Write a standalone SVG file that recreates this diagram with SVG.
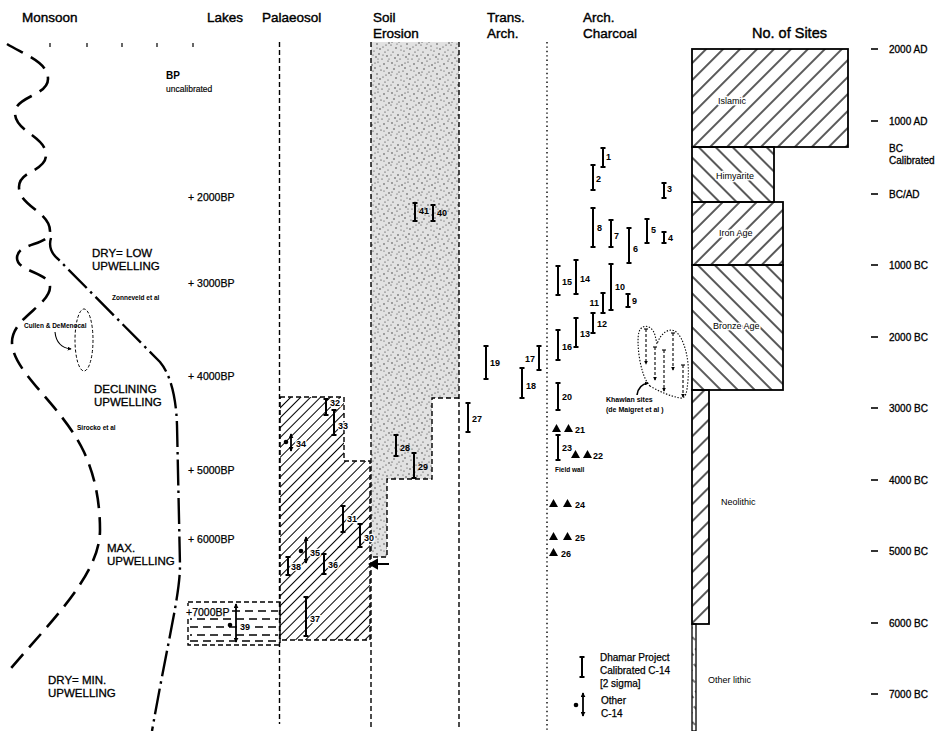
<svg xmlns="http://www.w3.org/2000/svg" width="949" height="731" viewBox="0 0 949 731">
<defs>
<style>
text{font-family:"Liberation Sans",Arial,sans-serif;fill:#000}
.hd{font-size:13.5px;stroke:#000;stroke-width:0.4}
.bp{font-size:10.5px;stroke:#000;stroke-width:0.25}
.up{font-size:11.5px;stroke:#000;stroke-width:0.3}
.sm{font-size:6.5px;font-weight:bold}
.num{font-size:9px;font-weight:bold}
.halo{stroke:#fff;stroke-width:2.5;paint-order:stroke;stroke-linejoin:round}
.sc{font-size:10px;stroke:#000;stroke-width:0.3}
.site{font-size:9px;stroke:#fff;stroke-width:3;paint-order:stroke;stroke-linejoin:round}
.lg{font-size:10px;stroke:#000;stroke-width:0.25}
.bar{stroke:#000;stroke-width:2;fill:none}
.dash{stroke:#000;stroke-width:1.4;stroke-dasharray:5 3}
.dot{stroke:#000;stroke-width:1.4;stroke-dasharray:1.4 3}
.box{stroke:#000;stroke-width:1.8}
.oc{stroke:#000;stroke-width:1.8;fill:none;marker-start:url(#ah);marker-end:url(#ah)}
.kh{stroke:#000;stroke-width:1.1;fill:none;stroke-dasharray:3 2;marker-end:url(#ahs)}
</style>
<marker id="ah" viewBox="0 0 6 6" refX="5" refY="3" markerWidth="5" markerHeight="5" markerUnits="userSpaceOnUse" orient="auto-start-reverse"><path d="M0,0 L6,3 L0,6 z" fill="#000"/></marker>
<marker id="ahs" viewBox="0 0 6 6" refX="5" refY="3" markerWidth="4" markerHeight="4" markerUnits="userSpaceOnUse" orient="auto"><path d="M0,0 L6,3 L0,6 z" fill="#000"/></marker>
<pattern id="hf" width="12" height="12" patternUnits="userSpaceOnUse" patternTransform="rotate(45)"><line x1="6" y1="0" x2="6" y2="12" stroke="#000" stroke-width="1.3"/></pattern>
<pattern id="hb" width="12" height="12" patternUnits="userSpaceOnUse" patternTransform="rotate(-45)"><line x1="6" y1="0" x2="6" y2="12" stroke="#000" stroke-width="1.3"/></pattern>
<pattern id="hp" width="7" height="7" patternUnits="userSpaceOnUse" patternTransform="rotate(45)"><line x1="3.5" y1="0" x2="3.5" y2="7" stroke="#000" stroke-width="1"/></pattern>
<pattern id="ho" width="6" height="10" patternUnits="userSpaceOnUse" patternTransform="rotate(-45)"><line x1="3" y1="0" x2="3" y2="4" stroke="#000" stroke-width="1"/></pattern>
<pattern id="st" width="30" height="30" patternUnits="userSpaceOnUse">
<rect width="30" height="30" fill="#e2e2e2"/>
<g fill="#222">
<circle cx="2" cy="3" r="0.7"/><circle cx="7" cy="1" r="0.6"/><circle cx="12" cy="5" r="0.7"/><circle cx="18" cy="2" r="0.6"/><circle cx="24" cy="4" r="0.7"/><circle cx="28" cy="1" r="0.6"/><circle cx="4" cy="9" r="0.7"/><circle cx="9" cy="12" r="0.6"/><circle cx="15" cy="8" r="0.7"/><circle cx="21" cy="10" r="0.6"/><circle cx="27" cy="8" r="0.7"/><circle cx="1" cy="15" r="0.6"/><circle cx="6" cy="18" r="0.7"/><circle cx="11" cy="16" r="0.6"/><circle cx="17" cy="14" r="0.7"/><circle cx="23" cy="17" r="0.6"/><circle cx="29" cy="13" r="0.7"/><circle cx="3" cy="22" r="0.6"/><circle cx="8" cy="25" r="0.7"/><circle cx="14" cy="21" r="0.6"/><circle cx="19" cy="24" r="0.7"/><circle cx="25" cy="22" r="0.6"/><circle cx="5" cy="28" r="0.7"/><circle cx="10" cy="29" r="0.6"/><circle cx="16" cy="27" r="0.7"/><circle cx="22" cy="29" r="0.6"/><circle cx="27" cy="26" r="0.7"/><circle cx="13" cy="11" r="0.6"/><circle cx="20" cy="19" r="0.7"/><circle cx="26" cy="15" r="0.6"/><circle cx="2" cy="12" r="0.6"/><circle cx="9" cy="6" r="0.6"/><circle cx="15" cy="3" r="0.6"/>
<circle cx="5" cy="5" r="0.5"/><circle cx="20" cy="6" r="0.5"/><circle cx="11" cy="20" r="0.5"/><circle cx="24" cy="11" r="0.5"/><circle cx="7" cy="14" r="0.5"/><circle cx="17" cy="18" r="0.5"/><circle cx="28" cy="20" r="0.5"/><circle cx="1" cy="25" r="0.5"/><circle cx="13" cy="25" r="0.5"/><circle cx="23" cy="25" r="0.5"/><circle cx="18" cy="29" r="0.5"/><circle cx="29" cy="29" r="0.5"/>
</g>
</pattern>
</defs>
<rect width="949" height="731" fill="#fff"/>

<g id="headers">
<text class="hd" x="22" y="22">Monsoon</text>
<text class="hd" x="207" y="22">Lakes</text>
<text class="hd" x="262" y="22">Palaeosol</text>
<text class="hd" x="373" y="22">Soil</text>
<text class="hd" x="373" y="38">Erosion</text>
<text class="hd" x="487" y="22">Trans.</text>
<text class="hd" x="487" y="38">Arch.</text>
<text class="hd" x="583" y="22">Arch.</text>
<text class="hd" x="583" y="38">Charcoal</text>
<text class="hd" x="752" y="38" style="font-size:14.5px">No. of Sites</text>
</g>

<g id="monsoon">
<g stroke="#000" stroke-width="1.2"><line x1="50" y1="43" x2="50" y2="47"/><line x1="87" y1="43" x2="87" y2="47"/><line x1="122" y1="43" x2="122" y2="47"/><line x1="157" y1="43" x2="157" y2="47"/><line x1="193" y1="43" x2="193" y2="47"/></g>
<path d="M 7,44 C 25,55 48,62 48,79 C 48,96 15,96 15,113 C 15,132 46,136 46,155 C 46,172 19,170 19,187 C 19,206 50,212 50,231 C 50,246 17,242 17,258 C 17,272 50,272 50,287 C 50,305 12,318 12,342 C 12,372 62,405 84,452 C 96,478 100,505 100,530 C 100,575 50,622 6,674" fill="none" stroke="#000" stroke-width="2.6" stroke-dasharray="18 9"/>
<path d="M 51,238 C 48,248 52,254 58,259 L 160,362 C 170,374 176,395 177,425 L 180,565 C 180,595 168,640 152,731" fill="none" stroke="#000" stroke-width="2.4" stroke-dasharray="26 5 2.5 5"/>
<ellipse cx="84" cy="340" rx="9" ry="31" fill="none" stroke="#000" stroke-width="1" stroke-dasharray="3 2"/>
<path d="M 55,332 C 56,342 62,348 71,349" fill="none" stroke="#000" stroke-width="1.1" marker-end="url(#ahs)"/>
<text class="up" x="92" y="257">DRY= LOW</text>
<text class="up" x="92" y="270">UPWELLING</text>
<text class="sm" x="112" y="300">Zonneveld et al</text>
<text class="sm" x="24" y="328">Cullen &amp; DeMenocal</text>
<text class="up" x="94" y="393">DECLINING</text>
<text class="up" x="94" y="406">UPWELLING</text>
<text class="sm" x="77" y="430">Sirocko et al</text>
<text class="up" x="107" y="552">MAX.</text>
<text class="up" x="107" y="565">UPWELLING</text>
<text class="up" x="48" y="684">DRY= MIN.</text>
<text class="up" x="48" y="697">UPWELLING</text>
</g>

<g id="lakes">
<text x="166" y="79" style="font-size:10px;font-weight:bold">BP</text>
<text x="166" y="92" style="font-size:8.5px;stroke:#000;stroke-width:0.15">uncalibrated</text>
<text class="bp" x="188" y="201">+ 2000BP</text>
<text class="bp" x="188" y="287">+ 3000BP</text>
<text class="bp" x="188" y="380">+ 4000BP</text>
<text class="bp" x="188" y="474">+ 5000BP</text>
<text class="bp" x="188" y="543">+ 6000BP</text>
<rect x="188" y="602" width="92" height="43" class="dash" style="fill:#fff"/>
<g stroke="#000" stroke-width="1.3" stroke-dasharray="8 5">
<line x1="232" y1="611" x2="278" y2="611"/>
<line x1="190" y1="619" x2="278" y2="619" stroke-dashoffset="6"/>
<line x1="190" y1="627" x2="278" y2="627"/>
<line x1="190" y1="635" x2="278" y2="635" stroke-dashoffset="6"/>
<line x1="190" y1="641" x2="278" y2="641"/>
</g>
<rect x="186" y="606" width="44" height="12" fill="#fff"/>
<text class="bp" x="186" y="616">+7000BP</text>
<circle cx="230" cy="625" r="2.3"/>
<path class="oc" d="M236,604 V642"/>
<text class="num halo" x="240" y="630">39</text>
</g>

<g id="columns">
<line x1="279.5" y1="42" x2="279.5" y2="724" class="dash"/>
<path d="M371,42 L459,42 L459,398 L432,398 L432,479 L387,479 L387,557 L371,557 Z" fill="url(#st)"/>
<line x1="371" y1="42" x2="371" y2="730" class="dash"/>
<line x1="459" y1="42" x2="459" y2="730" class="dash"/>
<path d="M459,398 H432 V479 H387 V557 H371" class="dash" fill="none"/>
<line x1="547" y1="42" x2="547" y2="730" class="dot"/>
</g>

<g id="palaeosol">
<path d="M280,397 H344 V461 H370 V640 H280 Z" class="dash" style="fill:url(#hp)"/>
<path class="bar" d="M326,399 V415 M323.5,399 h5 M323.5,415 h5"/><text class="num halo" x="330" y="406">32</text>
<path class="bar" d="M334,410 V435 M331.5,410 h5 M331.5,435 h5"/><text class="num halo" x="338" y="429">33</text>
<circle cx="286" cy="442" r="2.3"/><path class="oc" d="M291,434 V451"/><text class="num halo" x="296" y="447">34</text>
<path class="bar" d="M343,506 V532 M340.5,506 h5 M340.5,532 h5"/><text class="num halo" x="347" y="522">31</text>
<path class="bar" d="M360,524 V547 M357.5,524 h5 M357.5,547 h5"/><text class="num halo" x="364" y="541">30</text>
<circle cx="301" cy="551" r="2.3"/><path class="oc" d="M306,537 V563"/><text class="num halo" x="310" y="556">35</text>
<path class="bar" d="M288,557 V575 M285.5,557 h5 M285.5,575 h5"/><text class="num halo" x="291" y="570">38</text>
<path class="bar" d="M324,554 V574 M321.5,554 h5 M321.5,574 h5"/><text class="num halo" x="328" y="568">36</text>
<path class="bar" d="M306,597 V636 M303.5,597 h5 M303.5,636 h5"/><text class="num halo" x="310" y="622">37</text>
<path d="M370,564 L377,560 L377,568 Z M376,564 H389" stroke="#000" stroke-width="2" fill="#000"/>
</g>

<g id="soil-erosion">
<path class="bar" d="M415,203 V221 M412.5,203 h5 M412.5,221 h5"/><text class="num" x="419" y="214">41</text>
<path class="bar" d="M433,205 V221 M430.5,205 h5 M430.5,221 h5"/><text class="num" x="437" y="216">40</text>
<path class="bar" d="M396,435 V456 M393.5,435 h5 M393.5,456 h5"/><text class="num" x="400" y="451">28</text>
<path class="bar" d="M414,453 V478 M411.5,453 h5 M411.5,478 h5"/><text class="num" x="418" y="470">29</text>
</g>

<g id="trans-arch">
<path class="bar" d="M468,403 V432 M465.5,403 h5 M465.5,432 h5"/><text class="num" x="472" y="422">27</text>
<path class="bar" d="M486,346 V379 M483.5,346 h5 M483.5,379 h5"/><text class="num" x="490" y="366">19</text>
<path class="bar" d="M539,346 V370 M536.5,346 h5 M536.5,370 h5"/><text class="num" x="535" y="362" text-anchor="end">17</text>
<path class="bar" d="M522,368 V398 M519.5,368 h5 M519.5,398 h5"/><text class="num" x="526" y="389">18</text>
</g>

<g id="arch-charcoal">
<path class="bar" d="M603,148 V167 M600.5,148 h5 M600.5,167 h5"/><text class="num" x="606" y="160">1</text>
<path class="bar" d="M593,165 V190 M590.5,165 h5 M590.5,190 h5"/><text class="num" x="596" y="182">2</text>
<path class="bar" d="M664,183 V198 M661.5,183 h5 M661.5,198 h5"/><text class="num" x="667" y="192">3</text>
<path class="bar" d="M593,208 V247 M590.5,208 h5 M590.5,247 h5"/><text class="num" x="597" y="231">8</text>
<path class="bar" d="M611,220 V247 M608.5,220 h5 M608.5,247 h5"/><text class="num" x="614" y="239">7</text>
<path class="bar" d="M629,228 V263 M626.5,228 h5 M626.5,263 h5"/><text class="num" x="633" y="252">6</text>
<path class="bar" d="M647,219 V243 M644.5,219 h5 M644.5,243 h5"/><text class="num" x="651" y="233">5</text>
<path class="bar" d="M664,232 V243 M661.5,232 h5 M661.5,243 h5"/><text class="num" x="668" y="241">4</text>
<path class="bar" d="M558,266 V295 M555.5,266 h5 M555.5,295 h5"/><text class="num" x="562" y="285">15</text>
<path class="bar" d="M576,260 V294 M573.5,260 h5 M573.5,294 h5"/><text class="num" x="580" y="282">14</text>
<path class="bar" d="M611,264 V310 M608.5,264 h5 M608.5,310 h5"/><text class="num" x="615" y="290">10</text>
<path class="bar" d="M603,293 V313 M600.5,293 h5 M600.5,313 h5"/><text class="num" x="599" y="306" text-anchor="end">11</text>
<path class="bar" d="M628,294 V307 M625.5,294 h5 M625.5,307 h5"/><text class="num" x="632" y="304">9</text>
<path class="bar" d="M593,313 V333 M590.5,313 h5 M590.5,333 h5"/><text class="num" x="597" y="327">12</text>
<path class="bar" d="M576,318 V347 M573.5,318 h5 M573.5,347 h5"/><text class="num" x="580" y="337">13</text>
<path class="bar" d="M558,330 V360 M555.5,330 h5 M555.5,360 h5"/><text class="num" x="562" y="350">16</text>
<path class="bar" d="M558,383 V410 M555.5,383 h5 M555.5,410 h5"/><text class="num" x="562" y="400">20</text>
<path d="M552,432 l4.5,-8 l4.5,8 z M564,432 l4.5,-8 l4.5,8 z"/><text class="num" x="575" y="433">21</text>
<path class="bar" d="M558,435 V460 M555.5,435 h5 M555.5,460 h5"/><text class="num" x="562" y="451">23</text>
<path d="M571,458 l4.5,-8 l4.5,8 z M583,458 l4.5,-8 l4.5,8 z"/><text class="num" x="593" y="459">22</text>
<text x="555" y="472" style="font-size:6.5px;font-weight:bold">Field wall</text>
<path d="M549,507 l4.5,-8 l4.5,8 z M563,507 l4.5,-8 l4.5,8 z"/><text class="num" x="575" y="508">24</text>
<path d="M549,540 l4.5,-8 l4.5,8 z M563,540 l4.5,-8 l4.5,8 z"/><text class="num" x="575" y="541">25</text>
<path d="M549,556 l4.5,-8 l4.5,8 z"/><text class="num" x="561" y="557">26</text>
</g>

<g id="khawlan">
<path d="M650,386 C 640,376 636,342 639,332 C 642,323 652,325 655,335 L 657,344 C 661,333 668,328 675,331 C 684,337 690,360 688,380 C 687,392 686,399 680,398 C 670,396 660,392 650,386 Z" fill="none" stroke="#000" stroke-width="1.1" stroke-dasharray="1.4 1.6"/>
<g stroke="#000" stroke-width="1.1"><line x1="644" y1="329" x2="648" y2="329"/><line x1="653" y1="347" x2="657" y2="347"/><line x1="662" y1="350" x2="666" y2="350"/><line x1="671" y1="333" x2="675" y2="333"/><line x1="681" y1="365" x2="685" y2="365"/></g>
<path class="kh" d="M646,329 V364"/>
<path class="kh" d="M655,347 V380"/>
<path class="kh" d="M664,350 V391"/>
<path class="kh" d="M673,333 V370"/>
<path class="kh" d="M683,365 V397"/>
<path d="M637,395 C 638,388 642,384 648,383" fill="none" stroke="#000" stroke-width="1.6" marker-end="url(#ahs)"/>
<text x="606" y="402" style="font-size:7px;font-weight:bold">Khawlan sites</text>
<text x="606" y="412" style="font-size:7px;font-weight:bold">(de Maigret et al )</text>
</g>

<g id="sites">
<rect x="692" y="49" width="156" height="98" fill="url(#hf)" class="box"/>
<rect x="692" y="147" width="82" height="55" fill="url(#hb)" class="box"/>
<rect x="692" y="202" width="91" height="63" fill="url(#hf)" class="box"/>
<rect x="692" y="265" width="91" height="125" fill="url(#hb)" class="box"/>
<rect x="692" y="390" width="17" height="234" fill="url(#hf)" class="box"/>
<rect x="692" y="624" width="4" height="107" fill="url(#ho)" stroke="#000" stroke-width="1.3"/>
<text class="site" x="718" y="104">Islamic</text>
<text class="site" x="716" y="179">Himyarite</text>
<text class="site" x="719" y="236">Iron Age</text>
<text class="site" x="713" y="329">Bronze Age</text>
<text class="site" x="721" y="505">Neolithic</text>
<text class="site" x="708" y="683">Other lithic</text>
</g>

<g id="scale">
<g stroke="#000" stroke-width="1.6"><line x1="871" y1="49" x2="878" y2="49"/><line x1="871" y1="121" x2="878" y2="121"/><line x1="871" y1="194" x2="878" y2="194"/><line x1="871" y1="265" x2="878" y2="265"/><line x1="871" y1="337" x2="878" y2="337"/><line x1="871" y1="408" x2="878" y2="408"/><line x1="871" y1="480" x2="878" y2="480"/><line x1="871" y1="551" x2="878" y2="551"/><line x1="871" y1="623" x2="878" y2="623"/><line x1="871" y1="694" x2="878" y2="694"/></g>
<text class="sc" x="889" y="53">2000 AD</text>
<text class="sc" x="889" y="125">1000 AD</text>
<text class="sc" x="889" y="152">BC</text>
<text class="sc" x="889" y="164">Calibrated</text>
<text class="sc" x="889" y="198">BC/AD</text>
<text class="sc" x="889" y="269">1000 BC</text>
<text class="sc" x="889" y="341">2000 BC</text>
<text class="sc" x="889" y="412">3000 BC</text>
<text class="sc" x="889" y="484">4000 BC</text>
<text class="sc" x="889" y="555">5000 BC</text>
<text class="sc" x="889" y="627">6000 BC</text>
<text class="sc" x="889" y="698">7000 BC</text>
</g>

<g id="legend">
<path class="bar" d="M582,657 V677 M579.5,657 h5 M579.5,677 h5"/>
<text class="lg" x="600" y="661">Dhamar Project</text>
<text class="lg" x="600" y="674">Calibrated C-14</text>
<text class="lg" x="600" y="687">[2 sigma]</text>
<circle cx="576" cy="705" r="2.3"/>
<path class="oc" d="M583,693 V716"/>
<text class="lg" x="601" y="704">Other</text>
<text class="lg" x="601" y="717">C-14</text>
</g>
</svg>
